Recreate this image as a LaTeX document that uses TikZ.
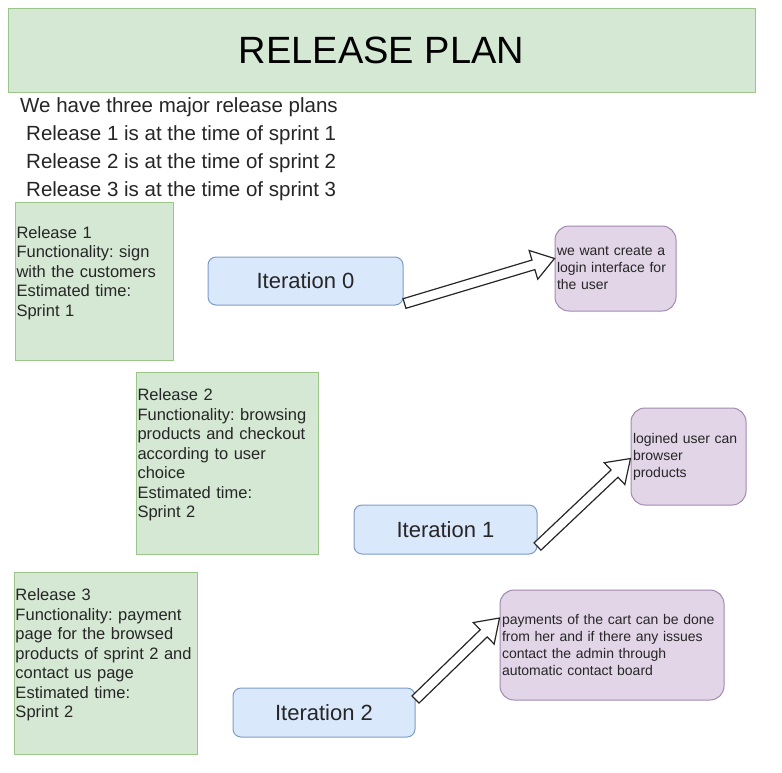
\documentclass[tikz,border=0pt]{standalone}
\usepackage{fontspec}
\setmainfont{Liberation Sans}
\usetikzlibrary{calc}
\frenchspacing
\definecolor{relfill}{HTML}{D5E8D4}
\definecolor{reldraw}{HTML}{9CC58A}
\definecolor{iterfill}{HTML}{DAE8FC}
\definecolor{iterdraw}{HTML}{7E9CC8}
\definecolor{goalfill}{HTML}{E1D5E7}
\definecolor{goaldraw}{HTML}{A389B0}
\definecolor{ink}{HTML}{262626}
\tikzset{
  titlebox/.style={draw=reldraw, fill=relfill, line width=1pt, text=black,
    font=\fontsize{38}{44}\selectfont},
  intro/.style={text=ink, inner sep=0pt, font=\fontsize{20.5}{24}\selectfont},
  relbox/.style={draw=reldraw, fill=relfill, line width=1pt, text=ink, align=left,
    inner xsep=1.5pt, font=\fontsize{16.5}{19.5}\selectfont},
  iterbox/.style={draw=iterdraw, fill=iterfill, line width=1pt, text=ink,
    rounded corners=8pt, font=\fontsize{22}{26}\selectfont},
  goalbox/.style={draw=goaldraw, fill=goalfill, line width=1pt, text=ink, align=left,
    rounded corners=14pt, inner xsep=2pt, font=\fontsize{14}{17}\selectfont},
  hollow/.style={draw=ink, fill=white, line width=1.2pt, line join=miter}
}
\newcommand{\blockarrow}[2]{
  \coordinate (#1-b) at ($(#2)!22pt!(#1)$);
  \draw[hollow] ($(#1)!5pt!90:(#2)$) -- ($(#1-b)!5pt!90:(#2)$)
    -- ($(#1-b)!15pt!90:(#2)$) -- (#2) -- ($(#1-b)!15pt!-90:(#2)$)
    -- ($(#1-b)!5pt!-90:(#2)$) -- ($(#1)!5pt!-90:(#2)$) -- cycle;
}
\begin{document}
\begin{tikzpicture}[x=1pt,y=-1pt]
  \useasboundingbox[fill=white] (0,0) rectangle (782,772);
  \node[titlebox, minimum width=747pt, minimum height=84pt] (title) at (381.5,50) {RELEASE PLAN};
  \node[intro, anchor=west] (intro) at (20,107) {We have three major release plans};
  \foreach \n/\y in {1/135, 2/163, 3/191}
  {
    \node[intro, anchor=west] (line\n) at (26,\y) {Release \n\ is at the time of sprint \n};
  }
  \node[relbox, text width=155pt, minimum height=158pt] (rel1) at (94,281)
    {Release 1\\Functionality: sign\\with the customers\\Estimated time:\\Sprint 1\\\mbox{}};
  \node[relbox, text width=179pt, minimum height=182pt] (rel2) at (227,463)
    {Release 2\\Functionality: browsing\\products and checkout\\according to user\\choice\\Estimated time:\\Sprint 2\\\mbox{}};
  \node[relbox, text width=180pt, minimum height=182pt] (rel3) at (105.5,663)
    {Release 3\\Functionality: payment\\page for the browsed\\products of sprint 2 and\\contact us page\\Estimated time:\\Sprint 2\\\mbox{}};
  \node[iterbox, minimum width=195pt, minimum height=48pt] (it0) at (305.5,281) {Iteration 0};
  \node[iterbox, minimum width=183pt, minimum height=49pt] (it1) at (445.5,529.5) {Iteration 1};
  \node[iterbox, minimum width=182pt, minimum height=49pt] (it2) at (324,712.5) {Iteration 2};
  \node[goalbox, text width=117pt, minimum height=85pt] (goal0) at (615.5,268.5)
    {we want create a\\login interface for\\the user};
  \node[goalbox, text width=111pt, minimum height=97pt] (goal1) at (688.5,456.5)
    {logined user can\\browser\\products};
  \node[goalbox, text width=220pt, minimum height=110pt] (goal2) at (612,645)
    {payments of the cart can be done\\from her and if there any issues\\contact the admin through\\automatic contact board};
  \coordinate (from0) at ($(it0.south east)+(1,-2)$);
  \coordinate (to0) at ($(goal0.west)+(0,-10)$);
  \coordinate (from1) at ($(it1.south east)+(0,-8)$);
  \coordinate (to1) at ($(goal1.west)+(0,2)$);
  \coordinate (from2) at ($(it2.north east)+(0,12)$);
  \coordinate (to2) at ($(goal2.west)+(0,-27)$);
  \blockarrow{from0}{to0}
  \blockarrow{from1}{to1}
  \blockarrow{from2}{to2}
\end{tikzpicture}
\end{document}
